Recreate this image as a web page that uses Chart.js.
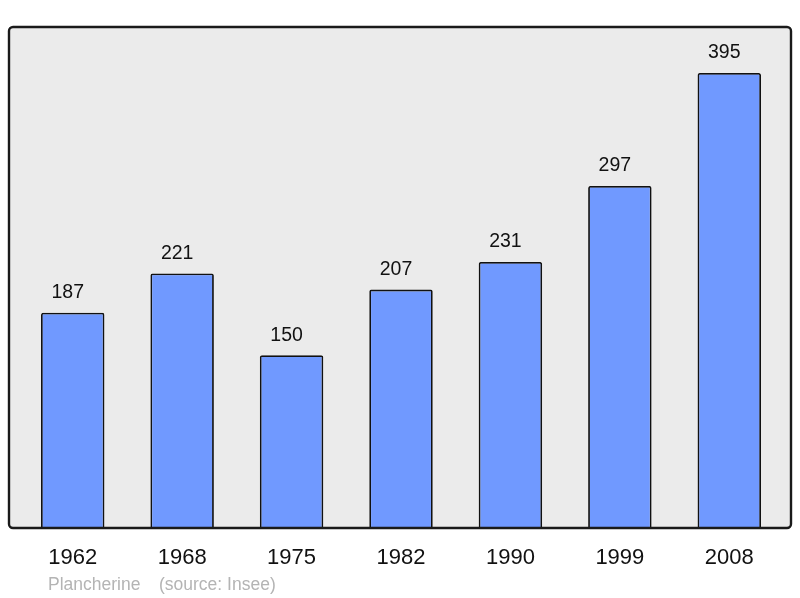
<!DOCTYPE html>
<html>
<head>
<meta charset="utf-8">
<script src="https://cdn.jsdelivr.net/npm/chart.js@4/dist/chart.umd.min.js"></script>
<style>
	html, body { margin: 0; padding: 0; background: #ffffff; }
	#wrap { width: 800px; height: 598px; }
</style>
</head>
<body>
<div id="wrap"><canvas id="pop-chart" width="800" height="598"></canvas></div>
<script>
	// population figures
	var years = ['1962', '1968', '1975', '1982', '1990', '1999', '2008'];
	var population = [187, 221, 150, 207, 231, 297, 395];
	var townName = 'Plancherine';
	var sourceText = '(source: Insee)';

	var frameBox = { left: 9, top: 27, right: 791, bottom: 528 };

	// grey panel with a dark rounded frame behind the bars
	var framePlugin = {
		id: 'frame',
		beforeDraw: function(chart) {
			var ctx = chart.ctx;
			ctx.save();
			ctx.beginPath();
			ctx.roundRect(frameBox.left, frameBox.top, frameBox.right - frameBox.left, frameBox.bottom - frameBox.top, 4);
			ctx.fillStyle = '#ebebeb';
			ctx.fill();
			ctx.restore();
		},
		afterDatasetsDraw: function(chart) {
			var ctx = chart.ctx;
			ctx.save();
			ctx.beginPath();
			ctx.roundRect(frameBox.left, frameBox.top, frameBox.right - frameBox.left, frameBox.bottom - frameBox.top, 4);
			ctx.lineWidth = 2.4;
			ctx.strokeStyle = '#1a1a1a';
			ctx.stroke();

			// numbers above each bar
			var meta = chart.getDatasetMeta(0);
			ctx.font = '19.5px "Liberation Sans", Arial, sans-serif';
			ctx.fillStyle = '#111111';
			ctx.textAlign = 'center';
			ctx.textBaseline = 'middle';
			meta.data.forEach(function(bar, i) {
				ctx.fillText(population[i], bar.x - 5, bar.y - 20);
			});

			// footer
			ctx.font = '17.5px "Liberation Sans", Arial, sans-serif';
			ctx.fillStyle = '#b4b4b4';
			ctx.textAlign = 'left';
			ctx.fillText(townName, 48, 585);
			ctx.fillText(sourceText, 159, 585);
			ctx.restore();
		}
	};

	const chartElem = document.getElementById('pop-chart');

	new Chart(chartElem, {
		type: 'bar',
		data: {
			labels: years,
			datasets: [{
				data: population,
				backgroundColor: '#7099ff',
				borderColor: '#111111',
				borderWidth: 1.8,
				borderRadius: 2,
				borderSkipped: 'bottom',
				barPercentage: 0.58,
				categoryPercentage: 1
			}]
		},
		options: {
			responsive: false,
			animation: false,
			layout: {
				padding: { left: 18, right: 16, top: 27, bottom: 0 }
			},
			scales: {
				y: {
					display: false,
					min: 0,
					max: 435
				},
				x: {
					grid: { display: false, drawTicks: false },
					border: { display: false },
					ticks: {
						color: '#111111',
						padding: 17,
						font: { family: '"Liberation Sans", Arial, sans-serif', size: 22 }
					},
					afterFit: function(scale) {
						scale.height = 70;
					}
				}
			},
			plugins: {
				legend: { display: false },
				tooltip: { enabled: false }
			}
		},
		plugins: [framePlugin]
	});
</script>
</body>
</html>
